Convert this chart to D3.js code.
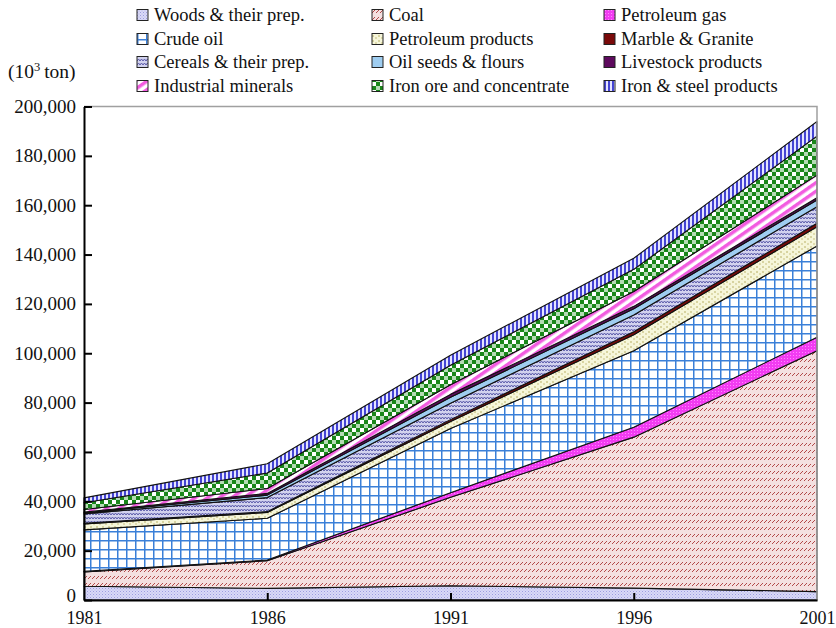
<!DOCTYPE html>
<html>
<head>
<meta charset="utf-8">
<script src="https://cdn.jsdelivr.net/npm/d3@7"></script>
<style>
  body { margin: 0; background: #fff; }
  svg { display: block; }
  text { font-family: 'Liberation Serif', 'Times New Roman', serif; }
</style>
</head>
<body>
<svg id="chart" width="836" height="628"></svg>
<script>
// Freight volume by commodity, stacked (10^3 ton)
const years = [1981, 1986, 1991, 1996, 2001];
const categories = [
  "Woods & their prep.", "Coal", "Petroleum gas",
  "Crude oil", "Petroleum products", "Marble & Granite",
  "Cereals & their prep.", "Oil seeds & flours", "Livestock products",
  "Industrial minerals", "Iron ore and concentrate", "Iron & steel products"
];
const woods       = [5600, 4700, 5800, 4800, 3400];
const coal        = [5800, 11200, 35800, 61200, 97600];
const petroGas    = [200, 300, 1900, 4000, 5500];
const crudeOil    = [16800, 16900, 26000, 31000, 37000];
const petroProd   = [2400, 2400, 2800, 6500, 7800];
const marble      = [300, 300, 800, 1200, 1400];
const cereals     = [3800, 5700, 6650, 6800, 6700];
const oilSeeds    = [400, 1000, 2430, 2500, 2700];
const livestock   = [300, 700, 1160, 1000, 900];
const minerals    = [1100, 2000, 3920, 6000, 9200];
const ironOre     = [2700, 6300, 7840, 9000, 15800];
const ironSteel   = [2000, 3700, 4100, 4500, 5900];
const yTicks = [0, 20000, 40000, 60000, 80000, 100000, 120000, 140000, 160000, 180000, 200000];

const seriesValues = [woods, coal, petroGas, crudeOil, petroProd, marble,
  cereals, oilSeeds, livestock, minerals, ironOre, ironSteel];

const rows = years.map((yr, i) => {
  const r = { year: yr };
  categories.forEach((c, k) => { r[c] = seriesValues[k][i]; });
  return r;
});

const FONT = "'Liberation Serif', 'Times New Roman', serif";
const svg = d3.select("#chart");
const x = d3.scaleLinear().domain([1981, 2001]).range([84, 817]);
const y = d3.scaleLinear().domain([0, 200000]).range([600, 106.5]);

// ---- fill patterns ----
const defs = svg.append("defs");
function pat(id, w, h, draw) {
  const p = defs.append("pattern").attr("id", id)
    .attr("patternUnits", "userSpaceOnUse").attr("width", w).attr("height", h);
  draw(p);
  return `url(#${id})`;
}
const fills = [];
// Woods: lavender with fine dots
fills.push(pat("p-woods", 3, 3, p => {
  p.append("rect").attr("width", 3).attr("height", 3).attr("fill", "#d9d9f6");
  p.append("rect").attr("x", 0).attr("y", 0).attr("width", 1).attr("height", 1).attr("fill", "#9d9de0");
  p.append("rect").attr("x", 1.5).attr("y", 1.5).attr("width", 1).attr("height", 1).attr("fill", "#b4b4ea");
}));
// Coal: pink with rows of small slashes
fills.push(pat("p-coal", 4, 7, p => {
  p.append("rect").attr("width", 4).attr("height", 7).attr("fill", "#f4e0e0");
  p.append("line").attr("x1", 0).attr("y1", 5).attr("x2", 3).attr("y2", 2)
    .attr("stroke", "#b24a4a").attr("stroke-width", 1);
}));
// Petroleum gas: magenta with dots
fills.push(pat("p-gas", 3, 3, p => {
  p.append("rect").attr("width", 3).attr("height", 3).attr("fill", "#f23cf2");
  p.append("rect").attr("x", 1).attr("y", 1).attr("width", 1).attr("height", 1).attr("fill", "#ff88ff");
}));
// Crude oil: blue grid
fills.push(pat("p-crude", 9, 9, p => {
  p.append("rect").attr("width", 9).attr("height", 9).attr("fill", "#ffffff");
  p.append("path").attr("d", "M0,0.75H9M0.75,0V9").attr("stroke", "#3a7fd8").attr("stroke-width", 1.5);
}));
// Petroleum products: pale yellow with olive dashes
fills.push(pat("p-prod", 6, 5, p => {
  p.append("rect").attr("width", 6).attr("height", 5).attr("fill", "#f6f6da");
  p.append("line").attr("x1", 1).attr("y1", 1).attr("x2", 1).attr("y2", 3)
    .attr("stroke", "#b8b066").attr("stroke-width", 1);
  p.append("line").attr("x1", 4).attr("y1", 3).attr("x2", 4).attr("y2", 5)
    .attr("stroke", "#c8c080").attr("stroke-width", 1);
}));
// Marble & Granite: solid dark red
fills.push("#7a0a0a");
// Cereals: lavender with navy zigzag
fills.push(pat("p-cereal", 6, 4, p => {
  p.append("rect").attr("width", 6).attr("height", 4).attr("fill", "#d2d2ee");
  p.append("path").attr("d", "M0,3L1.5,1L3,3L4.5,1L6,3").attr("fill", "none")
    .attr("stroke", "#5a5aaa").attr("stroke-width", 1);
}));
// Oil seeds: light blue
fills.push("#9fcdf0");
// Livestock: dark purple
fills.push("#5e0a5e");
// Industrial minerals: pink diagonal stripes
fills.push(pat("p-mineral", 7, 7, p => {
  p.attr("patternTransform", "rotate(-35)");
  p.append("rect").attr("width", 7).attr("height", 7).attr("fill", "#ffffff");
  p.append("rect").attr("y", 0).attr("width", 7).attr("height", 3.5).attr("fill", "#f25ce0");
}));
// Iron ore: green checkerboard
fills.push(pat("p-ore", 8, 8, p => {
  p.append("rect").attr("width", 8).attr("height", 8).attr("fill", "#ffffff");
  p.append("rect").attr("width", 4).attr("height", 4).attr("fill", "#1a861a");
  p.append("rect").attr("x", 4).attr("y", 4).attr("width", 4).attr("height", 4).attr("fill", "#1a861a");
  p.append("rect").attr("x", 4).attr("y", 0).attr("width", 4).attr("height", 4).attr("fill", "#2e962e").attr("opacity", 0.35);
}));
// Iron & steel: blue vertical lines
fills.push(pat("p-steel", 4, 4, p => {
  p.append("rect").attr("width", 4).attr("height", 4).attr("fill", "#e4e4ff");
  p.append("line").attr("x1", 1).attr("y1", 0).attr("x2", 1).attr("y2", 4)
    .attr("stroke", "#1c1cc8").attr("stroke-width", 1.6);
}));

// ---- stacked areas ----
const stack = d3.stack().keys(categories);
const layers = stack(rows);
const area = d3.area()
  .x(d => x(d.data.year))
  .y0(d => y(d[0]))
  .y1(d => y(d[1]));

svg.append("g").selectAll("path")
  .data(layers)
  .join("path")
  .attr("d", area)
  .attr("fill", (d, i) => fills[i])
  .attr("stroke", "#111")
  .attr("stroke-width", 1.1)
  .attr("stroke-linejoin", "round");

// ---- frame (top and right) ----
svg.append("path")
  .attr("d", `M${x(1981)},${y(200000)}H${x(2001)}V${y(0)}`)
  .attr("fill", "none").attr("stroke", "#a0a0a0").attr("stroke-width", 1.5);

// ---- axes ----
const yAxis = d3.axisLeft(y).tickValues(yTicks)
  .tickSizeInner(-8).tickSizeOuter(0).tickPadding(8)
  .tickFormat(d3.format(","));
const gy = svg.append("g").attr("transform", `translate(${x(1981)},0)`).call(yAxis);

const xAxis = d3.axisBottom(x).tickValues(years)
  .tickSizeInner(-7).tickSizeOuter(0).tickPadding(11)
  .tickFormat(d3.format("d"));
const gx = svg.append("g").attr("transform", `translate(0,${y(0)})`).call(xAxis);

[gx, gy].forEach(g => {
  g.attr("font-family", FONT);
  g.select(".domain").attr("stroke", "#000").attr("stroke-width", 2);
  g.selectAll(".tick line").attr("stroke", "#000").attr("stroke-width", 2);
  g.selectAll(".tick text").attr("font-family", FONT).attr("fill", "#111");
});
gy.attr("font-size", 19).selectAll(".tick text").attr("font-size", 19);
gx.attr("font-size", 18).selectAll(".tick text").attr("font-size", 18);
gx.selectAll(".tick").filter(d => d === 1981 || d === 2001).select("line").remove();
// the zero label sits just above the first year label
gy.selectAll(".tick").filter(d => d === 0).select("text").attr("dy", "0.1em");

// ---- unit label ----
const unit = svg.append("text").attr("x", 8).attr("y", 78)
  .attr("font-family", FONT).attr("font-size", 19.5).attr("fill", "#111");
unit.append("tspan").text("(10");
unit.append("tspan").attr("font-size", 12.5).attr("dy", -7).text("3");
unit.append("tspan").attr("dy", 7).text("\u2009ton)");

// ---- legend ----
const colX = [137, 372, 604];
const rowY = [15, 39, 62, 86];
const legend = svg.append("g");
categories.forEach((c, i) => {
  const cx = colX[i % 3], cy = rowY[Math.floor(i / 3)];
  const g = legend.append("g").attr("transform", `translate(${cx},${cy})`);
  g.append("rect").attr("x", 0).attr("y", -5.5).attr("width", 11).attr("height", 11)
    .attr("fill", fills[i]).attr("stroke", "#222").attr("stroke-width", 1);
  g.append("text").attr("x", 17).attr("y", 6).attr("font-family", FONT).attr("font-size", 18.5)
    .attr("fill", "#111").text(c);
});
</script>
</body>
</html>
